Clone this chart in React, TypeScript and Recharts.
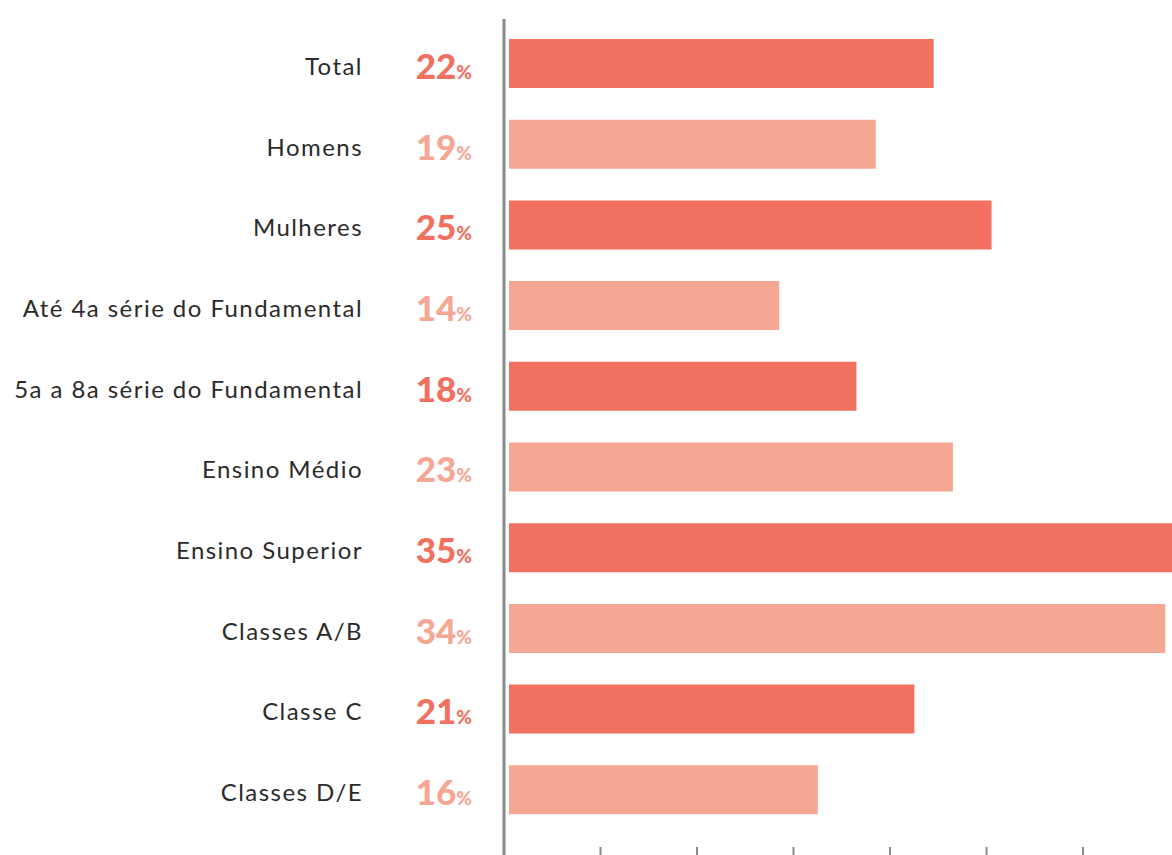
import { BarChart, Bar, XAxis, YAxis, Cell } from 'recharts';

const categories = [
  'Total',
  'Homens',
  'Mulheres',
  'Até 4a série do Fundamental',
  '5a a 8a série do Fundamental',
  'Ensino Médio',
  'Ensino Superior',
  'Classes A/B',
  'Classe C',
  'Classes D/E',
];

const values = [22, 19, 25, 14, 18, 23, 35, 34, 21, 16];

// the axis line sits a little left of where the bars start
const AXIS_ORIGIN = -0.26;
const tickSteps = [0, 5, 10, 15, 20, 25, 30, 35];

const DARK = '#F2705F';
const LIGHT = '#F6A794';
const AXIS_GREY = '#8a8a8a';

const data = categories.map((name, i) => ({ name, value: values[i] }));

function CategoryTick(props: any) {
  const { x, y, payload, index } = props;
  const color = index % 2 === 0 ? DARK : LIGHT;
  return (
    <g>
      <text
        x={x - 141}
        y={y + 11.5}
        textAnchor="end"
        fill="#2b2b2b"
        style={{ fontFamily: 'Lato, sans-serif', fontSize: 24, letterSpacing: 1.45 }}
      >
        {payload.value}
      </text>
      <text
        x={x - 32}
        y={y + 15.5}
        textAnchor="end"
        fill={color}
        style={{ fontFamily: 'Lato, sans-serif', fontWeight: 900 }}
      >
        <tspan style={{ fontSize: 35 }}>{values[index]}</tspan>
        <tspan style={{ fontSize: 19 }}>%</tspan>
      </text>
    </g>
  );
}

// plain tick marks, no labels; the first one continues the vertical axis line
function MarkTick(props: any) {
  const { x, y, index } = props;
  return (
    <line
      x1={x}
      x2={x}
      y1={y - 8}
      y2={y}
      stroke={AXIS_GREY}
      strokeWidth={index === 0 ? 3 : 2}
    />
  );
}

export default function App() {
  return (
    <div
      style={{
        position: 'absolute',
        left: 0,
        top: 0,
        width: 1172,
        height: 855,
        overflow: 'hidden',
        background: '#fff',
      }}
    >
      <BarChart
        width={1200}
        height={855}
        data={data}
        layout="vertical"
        margin={{ top: 19, right: 0, bottom: 0, left: 0 }}
      >
        <XAxis
          type="number"
          domain={[AXIS_ORIGIN, 35.8]}
          allowDataOverflow
          ticks={tickSteps.map((t) => t + AXIS_ORIGIN)}
          orientation="bottom"
          height={8}
          axisLine={false}
          tickLine={false}
          tickSize={8}
          tickMargin={0}
          interval={0}
          tick={<MarkTick />}
        />
        <YAxis
          type="category"
          dataKey="name"
          width={504}
          padding={{ top: 4, bottom: 17 }}
          axisLine={{ stroke: AXIS_GREY, strokeWidth: 3 }}
          tickLine={false}
          tickSize={0}
          tickMargin={0}
          interval={0}
          tick={<CategoryTick />}
        />
        <Bar dataKey="value" barSize={49} isAnimationActive={false}>
          {data.map((d, i) => (
            <Cell key={d.name} fill={i % 2 === 0 ? DARK : LIGHT} />
          ))}
        </Bar>
      </BarChart>
    </div>
  );
}
